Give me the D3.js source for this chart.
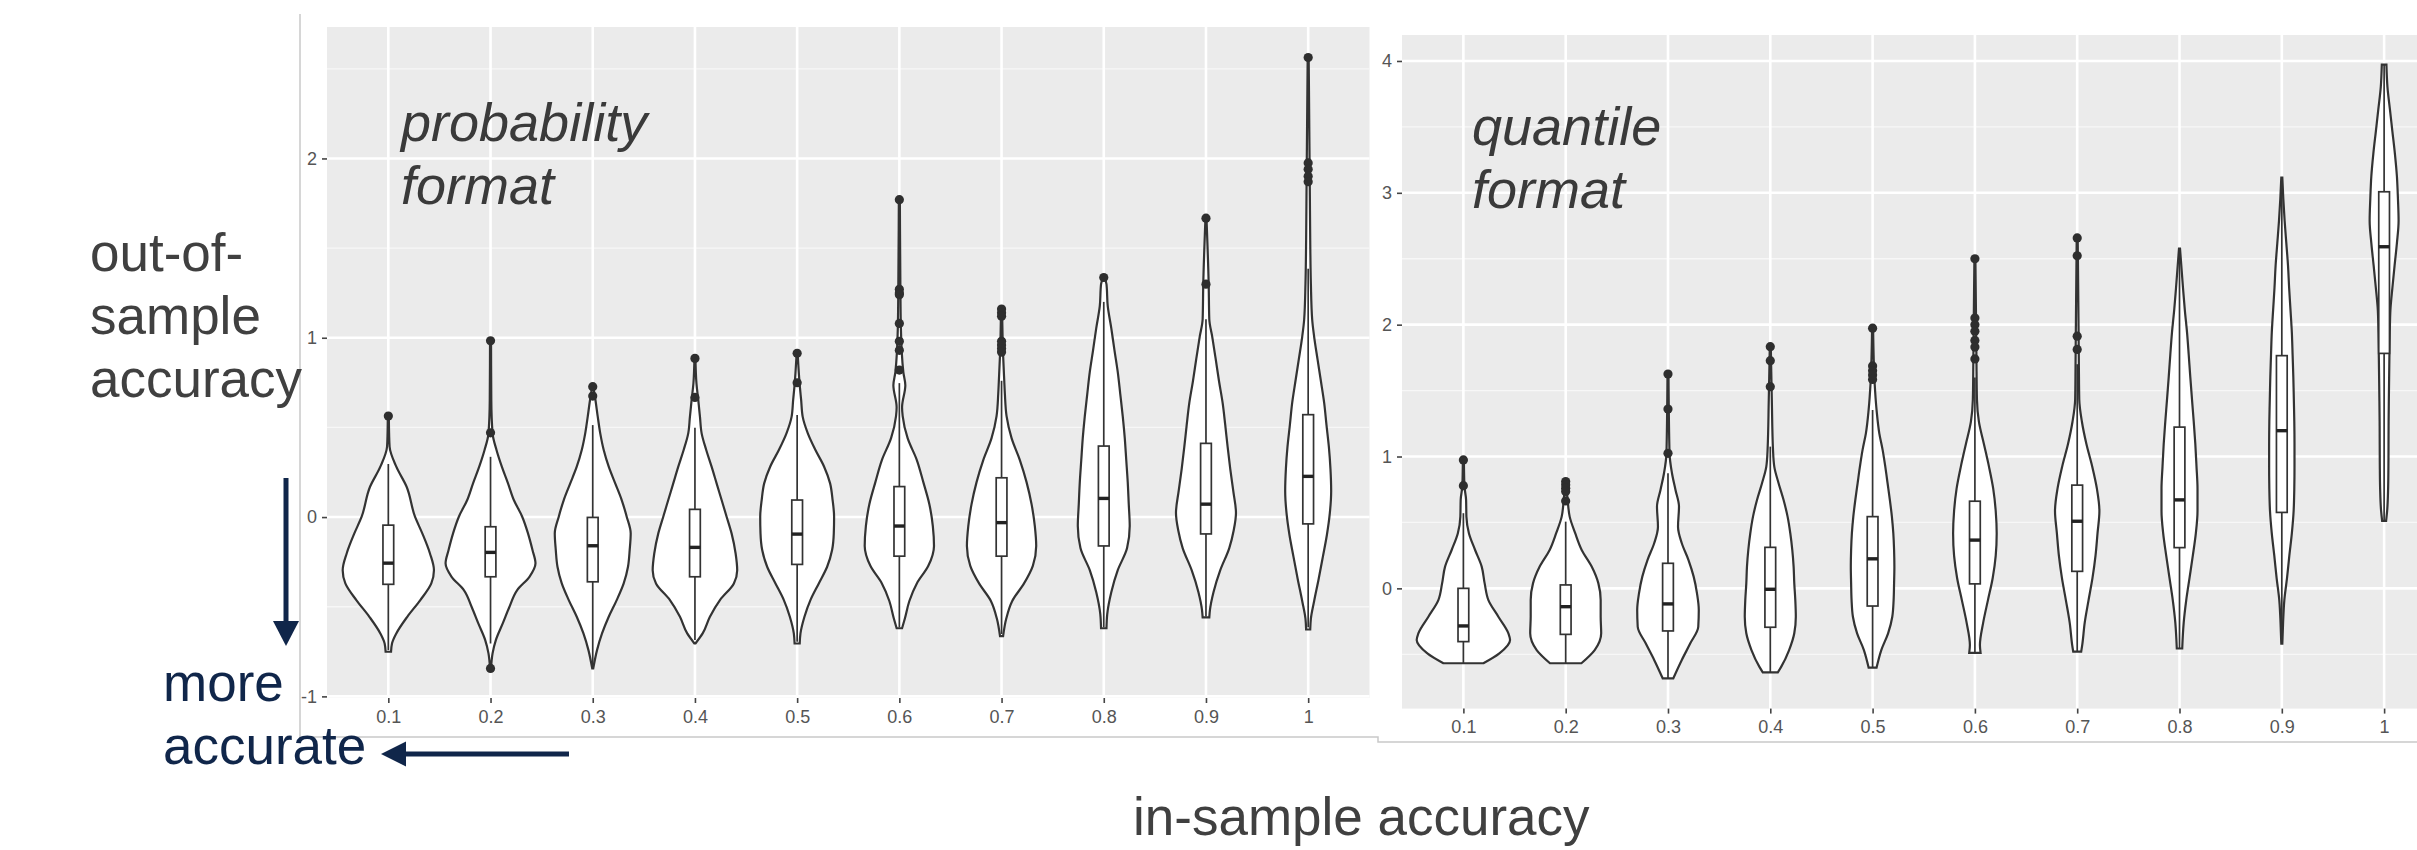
<!DOCTYPE html>
<html>
<head>
<meta charset="utf-8">
<script src="https://cdn.jsdelivr.net/npm/d3@7"></script>
<style>
  body { margin: 0; background: #fff; }
  svg { display: block; font-family: 'Liberation Sans', Arial, sans-serif; }
</style>
</head>
<body>
<script>
// in-sample accuracy groups (x axis, both panels)
const categories = ['0.1', '0.2', '0.3', '0.4', '0.5', '0.6', '0.7', '0.8', '0.9', '1'];

// y axis ticks
const probTicks = [-1, 0, 1, 2];
const quantTicks = [0, 1, 2, 3, 4];

// violin outlines: [value, violin width as share of a category step]
const probDensity = [
  [[0.563, 0.01], [0.467, 0.015], [0.392, 0.025], [0.281, 0.156], [0.169, 0.358], [0.002, 0.522], [-0.091, 0.665], [-0.203, 0.815], [-0.296, 0.893], [-0.370, 0.841], [-0.463, 0.626], [-0.556, 0.371], [-0.649, 0.156], [-0.705, 0.072], [-0.751, 0.053]],
  [[0.983, 0.01], [0.653, 0.015], [0.467, 0.04], [0.374, 0.117], [0.281, 0.221], [0.188, 0.342], [0.095, 0.456], [0.002, 0.620], [-0.091, 0.733], [-0.184, 0.821], [-0.258, 0.880], [-0.333, 0.762], [-0.407, 0.522], [-0.500, 0.371], [-0.593, 0.239], [-0.686, 0.104], [-0.760, 0.04], [-0.844, 0.01]],
  [[0.727, 0.01], [0.653, 0.053], [0.560, 0.098], [0.467, 0.147], [0.374, 0.215], [0.281, 0.313], [0.188, 0.440], [0.095, 0.567], [0.002, 0.665], [-0.091, 0.743], [-0.184, 0.723], [-0.277, 0.690], [-0.370, 0.606], [-0.463, 0.469], [-0.556, 0.313], [-0.649, 0.182], [-0.742, 0.084], [-0.844, 0.01]],
  [[0.885, 0.01], [0.745, 0.03], [0.653, 0.065], [0.560, 0.098], [0.467, 0.131], [0.374, 0.221], [0.281, 0.326], [0.188, 0.424], [0.095, 0.522], [0.002, 0.620], [-0.091, 0.717], [-0.203, 0.796], [-0.296, 0.827], [-0.370, 0.762], [-0.463, 0.489], [-0.556, 0.293], [-0.649, 0.151], [-0.705, 0.01]],
  [[0.913, 0.01], [0.727, 0.053], [0.653, 0.078], [0.560, 0.108], [0.467, 0.209], [0.374, 0.358], [0.281, 0.528], [0.188, 0.645], [0.095, 0.694], [0.002, 0.723], [-0.091, 0.717], [-0.184, 0.684], [-0.277, 0.587], [-0.370, 0.424], [-0.463, 0.260], [-0.556, 0.143], [-0.649, 0.065], [-0.705, 0.05]],
  [[1.770, 0.01], [1.299, 0.02], [1.054, 0.03], [0.808, 0.078], [0.735, 0.117], [0.612, 0.053], [0.563, 0.065], [0.440, 0.162], [0.318, 0.342], [0.195, 0.469], [0.072, 0.587], [-0.050, 0.655], [-0.161, 0.678], [-0.272, 0.567], [-0.370, 0.342], [-0.468, 0.196], [-0.566, 0.108], [-0.620, 0.053]],
  [[1.164, 0.01], [0.906, 0.03], [0.759, 0.053], [0.686, 0.065], [0.563, 0.098], [0.440, 0.196], [0.318, 0.358], [0.195, 0.489], [0.072, 0.587], [-0.050, 0.651], [-0.161, 0.678], [-0.272, 0.612], [-0.370, 0.440], [-0.468, 0.209], [-0.566, 0.092], [-0.664, 0.03]],
  [[1.336, 0.01], [1.299, 0.053], [1.176, 0.078], [1.054, 0.147], [0.931, 0.209], [0.808, 0.274], [0.686, 0.323], [0.563, 0.371], [0.440, 0.411], [0.318, 0.440], [0.195, 0.469], [0.072, 0.489], [-0.050, 0.508], [-0.173, 0.456], [-0.296, 0.274], [-0.419, 0.147], [-0.541, 0.068], [-0.620, 0.053]],
  [[1.667, 0.01], [1.299, 0.053], [1.103, 0.065], [1.005, 0.123], [0.882, 0.190], [0.760, 0.254], [0.637, 0.326], [0.514, 0.377], [0.391, 0.424], [0.269, 0.475], [0.146, 0.534], [0.023, 0.587], [-0.075, 0.542], [-0.173, 0.456], [-0.296, 0.280], [-0.419, 0.147], [-0.517, 0.078], [-0.559, 0.065]],
  [[2.563, 0.01], [1.790, 0.033], [1.544, 0.04], [1.299, 0.053], [1.103, 0.078], [1.005, 0.117], [0.882, 0.182], [0.760, 0.248], [0.637, 0.313], [0.514, 0.358], [0.391, 0.405], [0.269, 0.436], [0.146, 0.450], [0.023, 0.424], [-0.100, 0.366], [-0.222, 0.287], [-0.345, 0.205], [-0.468, 0.117], [-0.566, 0.053], [-0.627, 0.04]]
];

// boxplot stats: [lower whisker, q1, median, q3, upper whisker]
const probBox = [
  [-0.742, -0.375, -0.257, -0.045, 0.296],
  [-0.705, -0.333, -0.197, -0.054, 0.336],
  [-0.835, -0.361, -0.160, -0.002, 0.513],
  [-0.686, -0.333, -0.169, 0.043, 0.498],
  [-0.695, -0.264, -0.095, 0.095, 0.569],
  [-0.615, -0.218, -0.050, 0.170, 0.747],
  [-0.652, -0.218, -0.031, 0.219, 0.760],
  [-0.615, -0.161, 0.104, 0.396, 1.200],
  [-0.554, -0.094, 0.072, 0.411, 1.103],
  [-0.615, -0.038, 0.227, 0.571, 1.385]
];

const probOutliers = [
  [0.563],
  [0.983, 0.470, -0.844],
  [0.727, 0.675],
  [0.885, 0.667],
  [0.913, 0.749],
  [1.77, 1.27, 1.25, 1.24, 1.08, 0.98, 0.93, 0.82],
  [1.16, 1.14, 1.12, 0.98, 0.96, 0.94, 0.92],
  [1.336],
  [1.667, 1.299],
  [2.563, 1.975, 1.94, 1.90, 1.87]
];

const quantDensity = [
  [[0.974, 0.01], [0.779, 0.02], [0.670, 0.053], [0.544, 0.059], [0.418, 0.108], [0.291, 0.229], [0.165, 0.358], [0.038, 0.416], [-0.089, 0.489], [-0.215, 0.684], [-0.341, 0.880], [-0.392, 0.913], [-0.493, 0.704], [-0.568, 0.391]],
  [[0.810, 0.01], [0.663, 0.04], [0.544, 0.078], [0.418, 0.186], [0.291, 0.313], [0.165, 0.508], [0.038, 0.639], [-0.089, 0.684], [-0.215, 0.684], [-0.341, 0.694], [-0.468, 0.567], [-0.568, 0.307]],
  [[1.626, 0.01], [1.024, 0.03], [0.873, 0.078], [0.746, 0.147], [0.620, 0.215], [0.468, 0.196], [0.342, 0.270], [0.215, 0.401], [0.089, 0.502], [-0.038, 0.567], [-0.164, 0.602], [-0.291, 0.592], [-0.417, 0.436], [-0.543, 0.270], [-0.682, 0.104]],
  [[1.833, 0.01], [1.429, 0.03], [1.050, 0.053], [0.923, 0.078], [0.797, 0.162], [0.670, 0.260], [0.544, 0.338], [0.418, 0.391], [0.291, 0.430], [0.165, 0.456], [0.038, 0.469], [-0.089, 0.489], [-0.215, 0.499], [-0.341, 0.469], [-0.468, 0.368], [-0.594, 0.215], [-0.637, 0.147]],
  [[1.973, 0.01], [1.556, 0.04], [1.352, 0.078], [1.176, 0.131], [1.050, 0.196], [0.923, 0.248], [0.797, 0.293], [0.670, 0.338], [0.544, 0.377], [0.418, 0.405], [0.291, 0.420], [0.165, 0.426], [0.038, 0.420], [-0.089, 0.411], [-0.215, 0.385], [-0.341, 0.303], [-0.468, 0.170], [-0.601, 0.078]],
  [[2.499, 0.01], [1.738, 0.03], [1.433, 0.04], [1.264, 0.078], [1.095, 0.176], [0.925, 0.274], [0.756, 0.358], [0.587, 0.407], [0.417, 0.426], [0.248, 0.407], [0.079, 0.348], [-0.091, 0.254], [-0.260, 0.162], [-0.430, 0.098], [-0.490, 0.111]],
  [[2.658, 0.01], [1.812, 0.03], [1.670, 0.033], [1.433, 0.04], [1.264, 0.092], [1.095, 0.180], [0.925, 0.293], [0.756, 0.385], [0.587, 0.434], [0.417, 0.397], [0.248, 0.358], [0.079, 0.299], [-0.091, 0.221], [-0.260, 0.147], [-0.430, 0.098], [-0.480, 0.078]],
  [[2.577, 0.01], [2.280, 0.068], [2.110, 0.104], [1.941, 0.147], [1.772, 0.180], [1.602, 0.211], [1.433, 0.244], [1.264, 0.278], [1.095, 0.309], [0.925, 0.332], [0.756, 0.352], [0.587, 0.352], [0.417, 0.319], [0.248, 0.260], [0.079, 0.196], [-0.091, 0.131], [-0.260, 0.082], [-0.456, 0.053]],
  [[3.115, 0.01], [2.957, 0.029], [2.788, 0.055], [2.618, 0.088], [2.449, 0.121], [2.280, 0.143], [2.110, 0.170], [1.941, 0.196], [1.772, 0.211], [1.602, 0.225], [1.433, 0.235], [1.264, 0.244], [1.095, 0.248], [0.925, 0.248], [0.756, 0.244], [0.587, 0.231], [0.417, 0.196], [0.248, 0.147], [0.079, 0.102], [-0.091, 0.049], [-0.260, 0.025], [-0.420, 0.01]],
  [[3.973, 0.045], [3.804, 0.065], [3.634, 0.113], [3.465, 0.162], [3.296, 0.211], [3.126, 0.250], [2.957, 0.270], [2.788, 0.283], [2.618, 0.250], [2.449, 0.205], [2.280, 0.162], [2.110, 0.123], [1.941, 0.111], [1.772, 0.104], [1.602, 0.098], [1.264, 0.088], [0.925, 0.084], [0.756, 0.078], [0.587, 0.059], [0.512, 0.039]]
];

const quantBox = [
  [-0.568, -0.404, -0.285, 0.000, 0.570],
  [-0.568, -0.349, -0.139, 0.026, 0.506],
  [-0.682, -0.323, -0.118, 0.190, 0.873],
  [-0.637, -0.295, -0.007, 0.311, 1.075],
  [-0.601, -0.134, 0.224, 0.544, 1.353],
  [-0.490, 0.034, 0.366, 0.661, 1.600],
  [-0.480, 0.129, 0.509, 0.783, 1.700],
  [-0.456, 0.309, 0.671, 1.223, 2.577],
  [-0.420, 0.576, 1.196, 1.765, 3.115],
  [0.512, 1.782, 2.591, 3.008, 3.973]
];

const quantOutliers = [
  [0.974, 0.779],
  [0.81, 0.785, 0.76, 0.735, 0.663],
  [1.626, 1.36, 1.024],
  [1.833, 1.727, 1.53],
  [1.973, 1.687, 1.651, 1.618, 1.585],
  [2.50, 2.05, 2.0, 1.95, 1.88, 1.83, 1.74],
  [2.658, 2.522, 1.913, 1.812],
  [],
  [],
  []
];

const W = 2417, H = 850;
const ink = '#333333';
const navy = '#10264a';
const labelGrey = '#404040';

const svg = d3.select('body')
  .append('svg')
  .attr('width', W)
  .attr('height', H);

svg.append('rect').attr('width', W).attr('height', H).attr('fill', '#fff');

// screenshot frames
const frame = svg.append('g')
  .attr('stroke', '#c9c9c9')
  .attr('stroke-width', 1.5)
  .attr('fill', 'none');
frame.append('path').attr('d', 'M300,14V737H1378V742H2417');

// one ggplot-like panel
function drawPanel(p) {
  const g = svg.append('g');

  const x = d3.scalePoint()
    .domain(categories)
    .range([p.left, p.right])
    .padding(0.6);
  const step = x.step();
  const y = d3.scaleLinear()
    .domain(p.domain)
    .range([p.bottom, p.top]);

  g.append('rect')
    .attr('x', p.left)
    .attr('y', p.top)
    .attr('width', p.right - p.left)
    .attr('height', p.bottom - p.top)
    .attr('fill', '#ebebeb');

  // minor grid
  const minor = p.ticks.map(t => t - 0.5)
    .concat([p.ticks[p.ticks.length - 1] + 0.5])
    .filter(v => v > p.domain[0] && v < p.domain[1]);
  g.selectAll('.minor')
    .data(minor)
    .enter()
    .append('line')
    .attr('x1', p.left)
    .attr('x2', p.right)
    .attr('y1', d => y(d))
    .attr('y2', d => y(d))
    .attr('stroke', '#f7f7f7')
    .attr('stroke-width', 1.3);

  // major grid
  g.selectAll('.majorY')
    .data(p.ticks)
    .enter()
    .append('line')
    .attr('x1', p.left)
    .attr('x2', p.right)
    .attr('y1', d => y(d))
    .attr('y2', d => y(d))
    .attr('stroke', '#fff')
    .attr('stroke-width', 2.6);
  g.selectAll('.majorX')
    .data(categories)
    .enter()
    .append('line')
    .attr('x1', d => x(d))
    .attr('x2', d => x(d))
    .attr('y1', p.top)
    .attr('y2', p.bottom)
    .attr('stroke', '#fff')
    .attr('stroke-width', 2.6);

  // axes
  const yAxis = g.append('g')
    .attr('transform', `translate(${p.left},0)`)
    .call(d3.axisLeft(y).tickValues(p.ticks).tickSize(5).tickPadding(5).tickFormat(d => String(d)));
  const xAxis = g.append('g')
    .attr('transform', `translate(0,${p.bottom})`)
    .call(d3.axisBottom(x).tickSize(5).tickPadding(7));
  [yAxis, xAxis].forEach(a => {
    a.select('.domain').remove();
    a.selectAll('.tick line').attr('stroke', '#444').attr('stroke-width', 1.6);
    a.selectAll('.tick text')
      .attr('fill', '#555')
      .style('font-size', '18px')
      .style('font-family', "'Liberation Sans', Arial, sans-serif");
  });

  const area = d3.area()
    .curve(d3.curveMonotoneY)
    .y(d => y(d[0]));

  const boxW = step * 0.105;

  categories.forEach((c, i) => {
    const cx = x(c);
    const prof = d3.sort(p.density[i], d => d[0]);

    // violin
    g.append('path')
      .datum(prof)
      .attr('d', area.x0(d => cx - d[1] * step / 2).x1(d => cx + d[1] * step / 2))
      .attr('fill', '#fff')
      .attr('stroke', ink)
      .attr('stroke-width', 2.2);

    // boxplot
    const [lw, q1, med, q3, uw] = p.box[i];
    g.append('line')
      .attr('x1', cx).attr('x2', cx)
      .attr('y1', y(uw)).attr('y2', y(q3))
      .attr('stroke', ink).attr('stroke-width', 1.7);
    g.append('line')
      .attr('x1', cx).attr('x2', cx)
      .attr('y1', y(q1)).attr('y2', y(lw))
      .attr('stroke', ink).attr('stroke-width', 1.7);
    g.append('rect')
      .attr('x', cx - boxW / 2)
      .attr('y', y(q3))
      .attr('width', boxW)
      .attr('height', y(q1) - y(q3))
      .attr('fill', '#fff')
      .attr('stroke', ink)
      .attr('stroke-width', 1.7);
    g.append('line')
      .attr('x1', cx - boxW / 2).attr('x2', cx + boxW / 2)
      .attr('y1', y(med)).attr('y2', y(med))
      .attr('stroke', '#222').attr('stroke-width', 3.4);

    // outliers
    g.selectAll(null)
      .data(p.outliers[i])
      .enter()
      .append('circle')
      .attr('cx', cx)
      .attr('cy', d => y(d))
      .attr('r', 4.6)
      .attr('fill', '#2e2e2e');
  });
}

drawPanel({
  left: 327, right: 1369.5, top: 27, bottom: 698,
  domain: [-1.009, 2.733], ticks: probTicks,
  density: probDensity, box: probBox, outliers: probOutliers
});

drawPanel({
  left: 1402, right: 2445.5, top: 35, bottom: 708.6,
  domain: [-0.912, 4.197], ticks: quantTicks,
  density: quantDensity, box: quantBox, outliers: quantOutliers
});

// panel captions
const caption = (x, y, t) => svg.append('text')
  .attr('x', x).attr('y', y)
  .attr('fill', '#3a3a3a')
  .style('font-size', '54px')
  .style('font-style', 'italic')
  .text(t);
caption(401, 141, 'probability');
caption(401, 204, 'format');
caption(1472, 145, 'quantile');
caption(1472, 208, 'format');

// axis titles
[['out-of-', 271], ['sample', 334], ['accuracy', 397]].forEach(([t, yy]) => {
  svg.append('text')
    .attr('x', 90).attr('y', yy)
    .attr('fill', labelGrey)
    .style('font-size', '53px')
    .text(t);
});
svg.append('text')
  .attr('x', 1133).attr('y', 835)
  .attr('fill', labelGrey)
  .style('font-size', '53px')
  .text('in-sample accuracy');

// "more accurate" hint with arrows
[['more', 701], ['accurate', 764]].forEach(([t, yy]) => {
  svg.append('text')
    .attr('x', 163).attr('y', yy)
    .attr('fill', navy)
    .style('font-size', '53px')
    .text(t);
});
svg.append('line')
  .attr('x1', 286).attr('x2', 286)
  .attr('y1', 478).attr('y2', 624)
  .attr('stroke', navy).attr('stroke-width', 5);
svg.append('path')
  .attr('d', 'M273,621L299,621L286,646Z')
  .attr('fill', navy);
svg.append('line')
  .attr('x1', 569).attr('x2', 403)
  .attr('y1', 754).attr('y2', 754)
  .attr('stroke', navy).attr('stroke-width', 5);
svg.append('path')
  .attr('d', 'M406,741.5L406,766.5L381,754Z')
  .attr('fill', navy);
</script>
</body>
</html>
